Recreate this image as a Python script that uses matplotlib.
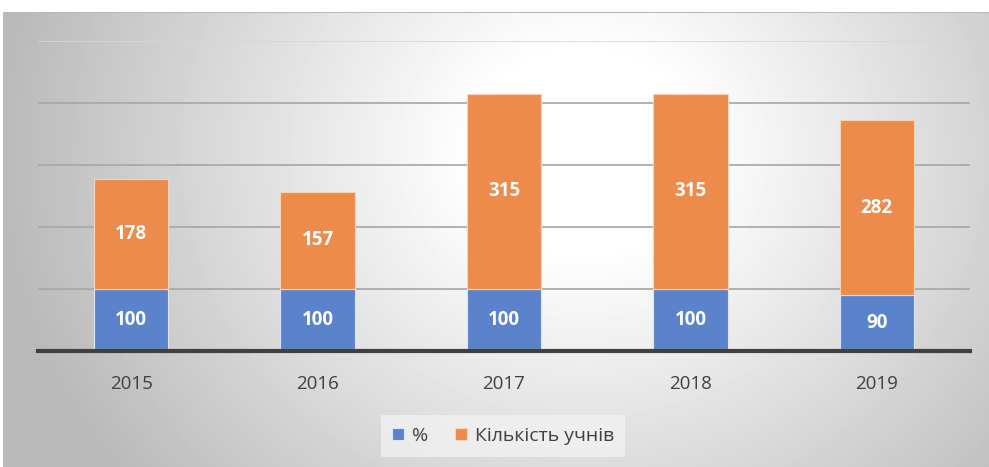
import numpy as np
import matplotlib
matplotlib.use('Agg')
import matplotlib.pyplot as plt

plt.rcParams['font.family'] = ['Open Sans', 'DejaVu Sans']

years = ['2015', '2016', '2017', '2018', '2019']
percent = [100, 100, 100, 100, 90]
students = [178, 157, 315, 315, 282]

blue = '#5a83cb'
orange = '#ec8b4b'

fig = plt.figure(figsize=(9.89, 4.67), dpi=100)

# radial gradient background
bg = fig.add_axes([3 / 989, 0, 986 / 989, 455 / 467], zorder=0)
yy, xx = np.mgrid[0:455, 0:986]
cx, cy = 580, 140
r = np.sqrt(((xx - cx) / 1.0) ** 2 + ((yy - cy) / 0.9) ** 2)
t = np.clip((r - 110) / 470, 0, 1)
shade = 1.0 - 0.27 * t
bg.imshow(shade, cmap='gray', vmin=0, vmax=1, aspect='auto', extent=[0, 1, 0, 1])
bg.axhline(1, color='#b8b8b8', lw=1.5)
bg.set_axis_off()

ax = fig.add_axes([38 / 989, (467 - 351) / 467, 932 / 989, 310 / 467], zorder=1)
ax.patch.set_alpha(0)
x = np.arange(len(years))
b1 = ax.bar(x, percent, width=0.4, color=blue, edgecolor='#dde6f5', linewidth=0.8, label='%', zorder=3)
b2 = ax.bar(x, students, width=0.4, bottom=percent, color=orange, edgecolor='#f6d4bc', linewidth=0.8,
            label='Кількість учнів', zorder=3)
for rect, v in zip(b1, percent):
    ax.text(rect.get_x() + rect.get_width() / 2, rect.get_y() + rect.get_height() / 2, str(v),
            ha='center', va='center', color='white', fontsize=13.5, fontweight='bold', zorder=4)
for rect, v in zip(b2, students):
    ax.text(rect.get_x() + rect.get_width() / 2, rect.get_y() + rect.get_height() / 2, str(v),
            ha='center', va='center', color='white', fontsize=13.5, fontweight='bold', zorder=4)

ax.set_xlim(-0.5, 4.5)
ax.set_ylim(0, 500)
ax.set_yticks([100, 200, 300, 400])
ax.yaxis.grid(True, color='#a6a6a6', lw=1.2, zorder=1)
ax.axhline(500, color='#d6d6d6', lw=1.2, zorder=1)
ax.set_yticklabels([])
ax.tick_params(axis='y', length=0)
ax.set_xticks(x)
ax.set_xticklabels(years, fontsize=13.5, color='#404040')
ax.tick_params(axis='x', length=0, pad=17)
for s in ['top', 'right', 'left']:
    ax.spines[s].set_visible(False)
ax.spines['bottom'].set_color('#404040')
ax.spines['bottom'].set_linewidth(3)
ax.spines['bottom'].set_zorder(5)

leg = fig.legend(handles=[b1, b2], loc='center', bbox_to_anchor=(503 / 989, (467 - 436) / 467),
                 ncol=2, frameon=True, fontsize=14, handlelength=0.6, handleheight=0.6,
                 handletextpad=0.4, columnspacing=1.4, borderpad=0.6, fancybox=False)
leg.get_frame().set_facecolor('#f4f4f4')
leg.get_frame().set_edgecolor('none')
leg.get_frame().set_alpha(0.7)
for txt in leg.get_texts():
    txt.set_color('#404040')

fig.savefig('out.png', dpi=100)
